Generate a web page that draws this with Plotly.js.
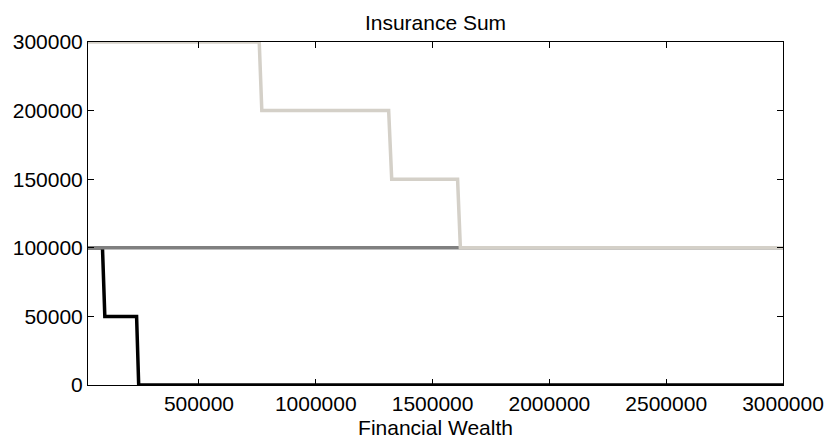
<!DOCTYPE html>
<html>
<head>
<meta charset="utf-8">
<script src="https://cdn.plot.ly/plotly-3.0.1.min.js"></script>
<style>
html, body { margin: 0; padding: 0; background: #fff; }
#chart { width: 827px; height: 445px; }
</style>
</head>
<body>
<div id="chart"></div>
<script>
// Y levels (the axis labels in the reference are evenly spaced levels)
const yLevels = ['0', '50000', '100000', '150000', '200000', '300000'];

// X tick values
const xTicks = [500000, 1000000, 1500000, 2000000, 2500000, 3000000];

// Series 1 (black)
const blackX = [25000, 87000, 97000, 233000, 242000, 3000000];
const blackY = ['100000', '100000', '50000', '50000', '0', '0'];

// Series 2 (mid grey)
const greyX = [25000, 3000000];
const greyY = ['100000', '100000'];

// Series 3 (light grey)
const lightX = [25000, 758000, 769000, 1312000, 1325000, 1607000, 1619000, 3000000];
const lightY = ['300000', '300000', '200000', '200000', '150000', '150000', '100000', '100000'];

const xRange = [25000, 3000000];

const fontFam = '"Liberation Sans", Arial, Helvetica, sans-serif';

const traces = [
  { x: blackX, y: blackY, mode: 'lines', line: { color: '#000000', width: 3.5 }, hoverinfo: 'x+y' },
  { x: greyX, y: greyY, mode: 'lines', line: { color: '#808080', width: 3.5 }, hoverinfo: 'x+y' },
  { x: lightX, y: lightY, mode: 'lines', line: { color: 'rgb(212,208,200)', width: 3.5 }, hoverinfo: 'x+y' }
];

const layout = {
  width: 827, height: 445,
  margin: { l: 88, r: 44, t: 42, b: 60, pad: 0 },
  paper_bgcolor: '#ffffff', plot_bgcolor: '#ffffff',
  showlegend: false,
  font: { family: fontFam, size: 21, color: '#000000' },
  title: {
    text: 'Insurance Sum',
    font: { family: fontFam, size: 21, color: '#000000' },
    x: 0.5, xref: 'paper', xanchor: 'center',
    y: 1, yref: 'paper', yanchor: 'bottom',
    pad: { b: 12 }
  },
  xaxis: {
    range: xRange,
    tickmode: 'array', tickvals: xTicks, ticktext: xTicks.map(v => String(v)),
    ticks: 'inside', ticklen: 6, tickwidth: 1, tickcolor: '#000',
    showline: true, linecolor: '#000', linewidth: 1, mirror: 'ticks',
    showgrid: false, zeroline: false,
    tickfont: { family: fontFam, size: 21, color: '#000' },
    title: { text: 'Financial Wealth', font: { family: fontFam, size: 21, color: '#000' }, standoff: 6 },
    automargin: false
  },
  yaxis: {
    type: 'category',
    categoryorder: 'array', categoryarray: yLevels,
    range: [0, yLevels.length - 1],
    ticks: 'inside', ticklen: 6, tickwidth: 1, tickcolor: '#000',
    showline: true, linecolor: '#000', linewidth: 1, mirror: 'ticks',
    showgrid: false, zeroline: false,
    tickfont: { family: fontFam, size: 21, color: '#000' },
    automargin: false
  }
};

Plotly.newPlot('chart', traces, layout, { displayModeBar: false, staticPlot: true });
</script>
</body>
</html>
